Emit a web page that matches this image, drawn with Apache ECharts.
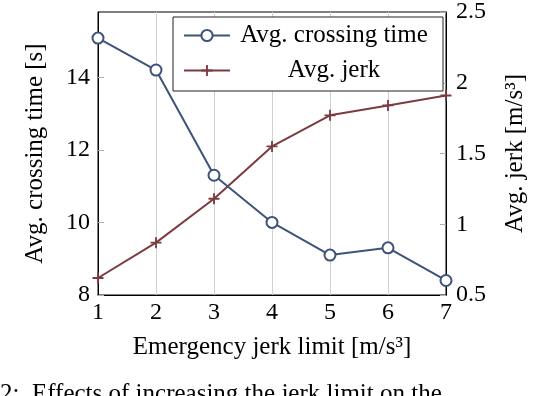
<!DOCTYPE html>
<html>
<head>
<meta charset="utf-8">
<script src="https://cdn.jsdelivr.net/npm/echarts@6/dist/echarts.min.js"></script>
<style>
  html, body { margin: 0; padding: 0; background: #fff; }
  #chart { width: 536px; height: 396px; }
</style>
</head>
<body>
<div id="chart"></div>
<script>
// values
const jerkLimits = ['1', '2', '3', '4', '5', '6', '7']
const crossingTime = [15.08, 14.2, 11.3, 10.0, 9.1, 9.3, 8.4]
const avgJerk = [0.62, 0.87, 1.18, 1.55, 1.77, 1.84, 1.91]
const leftTicks = [8, 10, 12, 14]

const FONT = 'Liberation Serif'
const BLUE = '#3d5379'
const RED = '#7b3b40'
const plus = 'path://M-1,-6h2v12h-2z M-6,-1h12v2h-12z'

const chart = echarts.init(document.getElementById('chart'), null, { renderer: 'canvas' })

const yTickStyle = {
  show: true,
  inside: true,
  length: 6,
  lineStyle: { color: '#b0b0b0', width: 1 },
}

chart.setOption({
  animation: false,
  textStyle: { fontFamily: FONT, color: '#000' },
  grid: {
    left: 98,
    right: 87,
    top: 9,
    bottom: 101,
    show: true,
    borderColor: '#000',
    borderWidth: 1,
    backgroundColor: 'transparent',
  },
  legend: {
    left: 173,
    top: 17,
    orient: 'vertical',
    backgroundColor: '#fff',
    borderColor: '#222',
    borderWidth: 1,
    borderRadius: 0,
    padding: [6, 10, 8, 10],
    itemWidth: 46,
    itemHeight: 14,
    itemGap: 10,
    formatter: '{t|{name}}',
    textStyle: {
      fontFamily: FONT,
      rich: {
        t: { width: 198, align: 'center', fontSize: 25, lineHeight: 24, fontFamily: FONT, color: '#000' },
      },
    },
    data: ['Avg. crossing time', 'Avg. jerk'],
  },
  xAxis: {
    type: 'category',
    data: jerkLimits,
    boundaryGap: false,
    name: 'Emergency jerk limit [m/s³]',
    nameLocation: 'middle',
    nameGap: 40,
    nameTextStyle: { fontSize: 25, fontFamily: FONT, color: '#000' },
    axisLine: { lineStyle: { color: '#000', width: 1 } },
    axisTick: { show: false },
    axisLabel: { fontSize: 24, fontFamily: FONT, color: '#000', margin: 6 },
    splitLine: { show: true, lineStyle: { color: '#d0d0d0', width: 1 } },
  },
  yAxis: [
    {
      type: 'value',
      min: 8,
      max: 15.8,
      name: 'Avg. crossing time [s]',
      nameLocation: 'middle',
      nameGap: 50,
      nameTextStyle: { fontSize: 25, fontFamily: FONT, color: '#000' },
      axisLine: { show: true, lineStyle: { color: '#000', width: 1 } },
      axisTick: Object.assign({ customValues: leftTicks }, yTickStyle),
      axisLabel: { customValues: leftTicks, fontSize: 24, fontFamily: FONT, color: '#000', margin: 8 },
      splitLine: { show: false },
    },
    {
      type: 'value',
      min: 0.5,
      max: 2.5,
      interval: 0.5,
      position: 'right',
      name: 'Avg. jerk [m/s³]',
      nameLocation: 'middle',
      nameGap: 57,
      nameRotate: 90,
      nameTextStyle: { fontSize: 25, fontFamily: FONT, color: '#000' },
      axisLine: { show: true, lineStyle: { color: '#000', width: 1 } },
      axisTick: yTickStyle,
      axisLabel: { fontSize: 24, fontFamily: FONT, color: '#000', margin: 10 },
      splitLine: { show: false },
    },
  ],
  graphic: [
    {
      type: 'text',
      left: 0,
      top: 382,
      silent: true,
      style: {
        text: '2:  Effects of increasing the jerk limit on the',
        font: '25px "Liberation Serif"',
        fill: '#000',
      },
    },
  ],
  series: [
    {
      name: 'Avg. crossing time',
      type: 'line',
      yAxisIndex: 0,
      data: crossingTime,
      symbol: 'emptyCircle',
      symbolSize: 11,
      lineStyle: { color: BLUE, width: 2 },
      itemStyle: { color: BLUE, borderColor: BLUE, borderWidth: 2.2 },
      z: 3,
    },
    {
      name: 'Avg. jerk',
      type: 'line',
      yAxisIndex: 1,
      data: avgJerk,
      symbol: plus,
      symbolSize: 11,
      lineStyle: { color: RED, width: 2 },
      itemStyle: { color: RED },
      z: 2,
    },
  ],
})
</script>
</body>
</html>
